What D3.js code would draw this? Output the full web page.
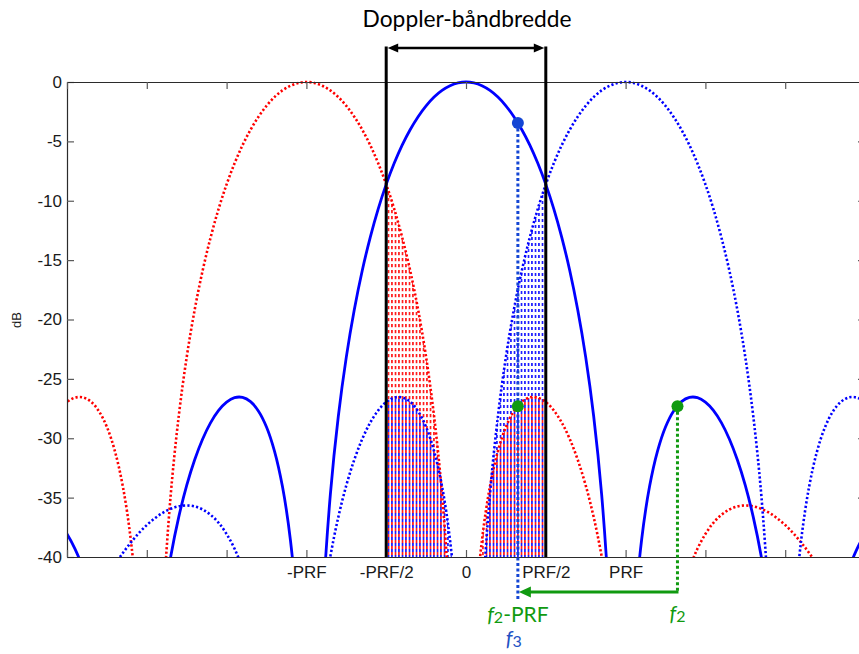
<!DOCTYPE html>
<html><head><meta charset="utf-8">
<script src="https://cdn.jsdelivr.net/npm/d3@7"></script>
<style>
html,body{margin:0;padding:0;background:#fff;}
svg{display:block;}
</style></head><body>
<svg id="chart" width="859" height="654"></svg>
<script>
// Antenna pattern (dB), as a function of the offset from the beam centre (in PRF units)
const patternOffset = [0,0.05,0.1,0.15,0.2,0.25,0.3,0.35,0.4,0.45,0.5,0.55,0.6,0.65,0.7,0.75,0.8,0.85,0.9,0.95,
  1,1.05,1.1,1.15,1.2,1.25,1.3,1.35,1.4,1.45,1.5,1.55,1.6,1.65,1.7,1.75,1.8,1.85,1.9,1.95,
  2,2.05,2.1,2.15,2.2,2.25,2.3,2.35,2.4,2.45,2.5,2.55,2.6,2.65,2.7,2.75,2.8,2.85,2.9,2.95,
  3,3.05,3.1,3.15,3.2,3.25,3.3,3.35,3.4,3.45,3.5];
const patternDb = [0,-0.08,-0.32,-0.71,-1.27,-2.01,-2.92,-4.02,-5.32,-6.85,-8.62,-10.68,-13.08,-15.87,-19.18,-23.17,-28.15,-34.75,-44.63,-60,
  -60,-46.11,-38.59,-34.07,-31.08,-29.05,-27.72,-26.92,-26.56,-26.58,-26.95,-27.65,-28.68,-30.06,-31.81,-33.97,-36.64,-39.95,-44.14,-49.69,
  -57.76,-60,-60,-60,-55.71,-49.95,-46.0,-43.13,-40.96,-39.31,-38.06,-37.12,-36.45,-36.0,-35.74,-35.66,-35.73,-35.94,-36.28,-36.74,
  -37.31,-37.99,-38.78,-39.66,-40.64,-41.72,-42.88,-44.15,-45.51,-46.97,-48.53];

// Beams: centre frequency (PRF units), colour and style
const beamCenters = [-1, 1, 0];
const beamColors  = ["#ff0000", "#0000ff", "#0000ff"];
const beamDotted  = [true, true, false];

const yTicks = [0,-5,-10,-15,-20,-25,-30,-35,-40];
const xTicks = [-2.5,-2,-1.5,-1,-0.5,0,0.5,1,1.5,2,2.5];
const xLabelValues = [-1,-0.5,0,0.5,1];
const xLabelTexts  = ["-PRF","-PRF/2","0","PRF/2","PRF"];
const bandEdges = [-0.5, 0.5];
const f3 = 0.325, f3Db = -3.45;
const f2 = 1.325, f2Db = -27.3;
const aliasDb = -27.3;
const titleText = "Doppler-båndbredde";

const svg = d3.select("#chart");
const L = 67, R = 865, T = 82, B = 557;
const x = d3.scaleLinear().domain([-2.5, 2.5]).range([L, R]);
const y = d3.scaleLinear().domain([-40, 0]).range([B, T]);

const defs = svg.append("defs");
defs.append("clipPath").attr("id","plotClip").append("rect")
  .attr("x", L).attr("y", T - 3).attr("width", R - L).attr("height", B - T + 3);
defs.append("clipPath").attr("id","bandClip").append("rect")
  .attr("x", x(bandEdges[0])).attr("y", T).attr("width", x(bandEdges[1]) - x(bandEdges[0])).attr("height", B - T);

const hatchW = 3.5, hatchH = 6;
const pr = defs.append("pattern").attr("id","hatchRed").attr("patternUnits","userSpaceOnUse")
  .attr("x", x(bandEdges[0]) + 1.5).attr("y", 0).attr("width", hatchW).attr("height", hatchH);
pr.append("rect").attr("x",0).attr("y",0).attr("width",1.5).attr("height",3.2).attr("fill","#ff0000");
const pb = defs.append("pattern").attr("id","hatchBlue").attr("patternUnits","userSpaceOnUse")
  .attr("x", x(bandEdges[0]) + 1.5).attr("y", 0).attr("width", hatchW).attr("height", hatchH);
pb.append("rect").attr("x",0).attr("y",3).attr("width",1.5).attr("height",3).attr("fill","#0000ff");

function beamPoints(c){
  const pts = [];
  for (let i = patternOffset.length - 1; i > 0; i--) pts.push([c - patternOffset[i], patternDb[i]]);
  for (let i = 0; i < patternOffset.length; i++) pts.push([c + patternOffset[i], patternDb[i]]);
  return pts;
}

const curve = d3.curveCatmullRom.alpha(0.5);
const line = d3.line().x(d => x(d[0])).y(d => y(d[1])).curve(curve);
const area = d3.area().x(d => x(d[0])).y0(y(-40)).y1(d => y(d[1])).curve(curve);

// hatched aliasing areas inside the Doppler band (under the dotted neighbour beams)
const hatchG = svg.append("g").attr("clip-path","url(#plotClip)")
  .append("g").attr("clip-path","url(#bandClip)");
beamCenters.forEach((c, i) => {
  if (!beamDotted[i]) return;
  hatchG.append("path").datum(beamPoints(c))
    .attr("d", area)
    .attr("fill", c < 0 ? "url(#hatchRed)" : "url(#hatchBlue)");
});

// beam curves
const curveG = svg.append("g").attr("clip-path","url(#plotClip)");
beamCenters.forEach((c, i) => {
  curveG.append("path").datum(beamPoints(c))
    .attr("d", line)
    .attr("fill","none")
    .attr("stroke", beamColors[i])
    .attr("stroke-width", beamDotted[i] ? 2.6 : 2.8)
    .attr("stroke-dasharray", beamDotted[i] ? "2.2,2.2" : null);
});

// axes (box with inward ticks)
const axisColor = "#2b2b2b", tickColor = "#5a5a5a";
const fontAx = "'Liberation Sans', Arial, sans-serif";
const gL = svg.append("g").attr("transform", `translate(${L},0)`)
  .call(d3.axisLeft(y).tickValues(yTicks).tickSize(-7).tickSizeOuter(0).tickPadding(5).tickFormat(d => String(d)));
const gR = svg.append("g").attr("transform", `translate(${R},0)`)
  .call(d3.axisRight(y).tickValues(yTicks).tickSize(-7).tickSizeOuter(0).tickFormat(""));
const gB = svg.append("g").attr("transform", `translate(0,${B})`)
  .call(d3.axisBottom(x).tickValues(xTicks).tickSize(-7).tickSizeOuter(0).tickPadding(9)
    .tickFormat(d => { const k = xLabelValues.indexOf(d); return k >= 0 ? xLabelTexts[k] : ""; }));
const gT = svg.append("g").attr("transform", `translate(0,${T})`)
  .call(d3.axisTop(x).tickValues(xTicks).tickSize(-7).tickSizeOuter(0).tickFormat(""));
[gL, gR, gB, gT].forEach(g => {
  g.select(".domain").attr("stroke", axisColor).attr("stroke-width", 1.2);
  g.selectAll(".tick line").attr("stroke", tickColor).attr("stroke-width", 1.2);
  g.selectAll(".tick text").attr("fill", "#1a1a1a").style("font-family", fontAx).style("font-size", "17px");
});

svg.append("text").attr("transform", "translate(21,320) rotate(-90)")
  .attr("text-anchor","middle").style("font-family", fontAx).style("font-size","13px").attr("fill","#1a1a1a")
  .text("dB");

// Doppler band: black vertical lines and double arrow
const xa = x(bandEdges[0]), xb = x(bandEdges[1]), ya = 48;
bandEdges.forEach(v => {
  svg.append("line").attr("x1", x(v)).attr("x2", x(v)).attr("y1", ya - 1.5).attr("y2", B)
    .attr("stroke","#000").attr("stroke-width",3);
});
svg.append("line").attr("x1", xa + 8).attr("x2", xb - 8).attr("y1", ya).attr("y2", ya)
  .attr("stroke","#000").attr("stroke-width",2.5);
svg.append("path").attr("d", `M${xa+1.5},${ya} L${xa+12},${ya-4.5} L${xa+12},${ya+4.5} Z`).attr("fill","#000");
svg.append("path").attr("d", `M${xb-1.5},${ya} L${xb-12},${ya-4.5} L${xb-12},${ya+4.5} Z`).attr("fill","#000");

const title = svg.append("text").attr("x", (xa + xb) / 2 + 1).attr("y", 27).attr("text-anchor","middle")
  .style("font-family","Lato, 'Open Sans', sans-serif").style("font-size","20px").attr("fill","#000")
  .text(titleText);
const tw = title.node().getComputedTextLength();
if (tw > 0) title.style("font-size", (20 * 209 / tw).toFixed(2) + "px");

// frequency markers
const green = "#109a10", royal = "#1446d4";
const arrowY = 592;
svg.append("line").attr("x1", x(f3)).attr("x2", x(f3)).attr("y1", y(f3Db)).attr("y2", 601)
  .attr("stroke", royal).attr("stroke-width", 3).attr("stroke-dasharray","3,2.5");
svg.append("line").attr("x1", x(f2)).attr("x2", x(f2)).attr("y1", y(f2Db)).attr("y2", arrowY + 1)
  .attr("stroke", green).attr("stroke-width", 3).attr("stroke-dasharray","3,2.5");
svg.append("line").attr("x1", x(f2) + 1).attr("x2", x(f2 - 1) + 9).attr("y1", arrowY).attr("y2", arrowY)
  .attr("stroke", green).attr("stroke-width", 3);
const tip = x(f2 - 1) + 1;
svg.append("path").attr("d", `M${tip},${arrowY} L${tip+12},${arrowY-5.5} L${tip+12},${arrowY+5.5} Z`).attr("fill", green);

svg.append("circle").attr("cx", x(f3)).attr("cy", y(f3Db)).attr("r", 6).attr("fill", royal);
svg.append("circle").attr("cx", x(f2 - 1)).attr("cy", y(aliasDb)).attr("r", 6).attr("fill", green);
svg.append("circle").attr("cx", x(f2)).attr("cy", y(f2Db)).attr("r", 6).attr("fill", green);

const labFont = "Lato, 'Open Sans', sans-serif";
function fLabel(cx, by, sub, rest, color){
  const t = svg.append("text").attr("x", cx).attr("y", by).attr("text-anchor","middle")
    .style("font-family", labFont).style("font-size","21px").attr("fill", color);
  t.append("tspan").style("font-style","italic").text("f");
  t.append("tspan").style("font-size","16px").attr("dy", 1).text(sub);
  if (rest) t.append("tspan").attr("dy", -1).text(rest);
  return t;
}
fLabel(x(f2 - 1), 622, "2", "-PRF", green);
fLabel(x(f3) - 4, 646, "3", null, "#2352c4");
fLabel(x(f2), 621, "2", null, green);
</script>
</body></html>
